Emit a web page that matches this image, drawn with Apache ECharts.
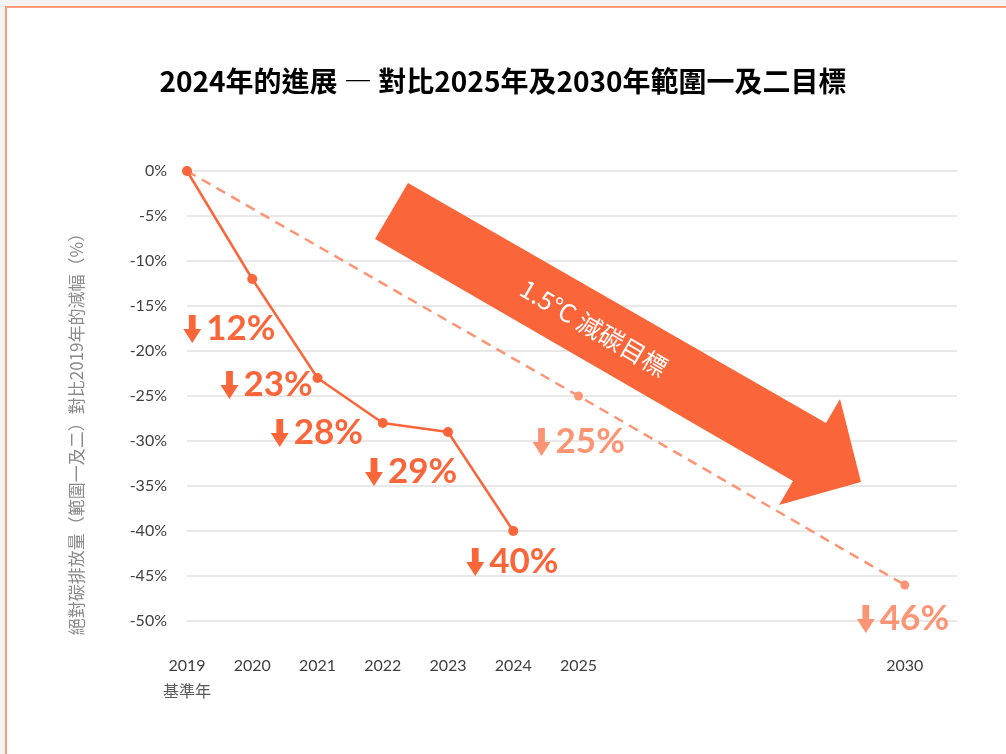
<!DOCTYPE html>
<html>
<head>
<meta charset="utf-8">
<script src="https://cdn.jsdelivr.net/npm/echarts@6/dist/echarts.min.js"></script>
<style>
  html, body { margin: 0; padding: 0; background: #f4f4f4; }
  #chart { width: 1006px; height: 754px; }
</style>
</head>
<body>
<div id="chart"></div>
<script>
// 實際減幅（範圍一及二，對比2019）
const actualYears = [2019, 2020, 2021, 2022, 2023, 2024];
const actualValues = [0, -12, -23, -28, -29, -40];
// 目標路徑
const targetYears = [2019, 2025, 2030];
const targetValues = [0, -25, -46];
const tickYears = [2019, 2020, 2021, 2022, 2023, 2024, 2025, 2030];

// 標籤相對數據點的偏移 (px)
const actualOffsets = [null, [-60, 50], [-88, 7], [-103, 10], [-74, 40], [-38, 31]];
const targetOffsets = [null, [-37, 46], [-39, 34]];

const solidColor = '#fa653a';
const lightColor = '#fd9474';
const arrowPath = 'path://M5.3 0 L11.7 0 L11.7 14 L17 14 L8.5 28 L0 14 L5.3 14 Z';

function annoData(years, values, offsets) {
  let out = [];
  years.forEach((y, i) => {
    if (!offsets[i]) return;
    out.push({ value: [y, values[i]], symbolOffset: offsets[i] });
  });
  return out;
}

function annoSeries(years, values, offsets, color) {
  return {
    type: 'scatter',
    data: annoData(years, values, offsets),
    symbol: arrowPath,
    symbolSize: [18, 28],
    itemStyle: { color: color, opacity: 1 },
    silent: true,
    z: 5,
    label: {
      show: true,
      position: 'right',
      distance: 5,
      color: color,
      fontFamily: 'Lato',
      fontWeight: 'bold',
      fontSize: 35,
      formatter: p => Math.abs(p.value[1]) + '%'
    }
  };
}

const chart = echarts.init(document.getElementById('chart'));
const option = {
  backgroundColor: '#f4f4f4',
  animation: false,
  title: {
    text: '2024年的進展 ― 對比2025年及2030年範圍一及二目標',
    left: 'center',
    top: 62,
    textStyle: {
      fontFamily: 'Noto Sans CJK TC',
      fontWeight: 'bold',
      fontSize: 28,
      color: '#000'
    }
  },
  grid: { left: 187, right: 49, top: 171, bottom: 133 },
  xAxis: {
    type: 'value',
    min: 2019,
    max: 2030.8,
    interval: 1,
    axisLine: { show: false },
    axisTick: { show: false },
    splitLine: { show: false },
    axisLabel: {
      margin: 32,
      color: '#404040',
      fontFamily: 'Lato',
      fontSize: 16,
      lineHeight: 25,
      formatter: v => {
        if (tickYears.indexOf(v) < 0) return '';
        if (v === 2019) return '{y|2019}\n{b|基準年}';
        return '{y|' + v + '}';
      },
      rich: {
        y: { fontFamily: 'Lato', fontSize: 16, lineHeight: 25, color: '#404040' },
        b: { fontFamily: 'Noto Sans CJK TC', fontSize: 16, lineHeight: 25, color: '#595959' }
      }
    }
  },
  yAxis: {
    type: 'value',
    min: -50,
    max: 0,
    interval: 5,
    axisLine: { show: false },
    axisTick: { show: false },
    splitLine: { lineStyle: { color: '#e8e8e8', width: 2 } },
    axisLabel: {
      margin: 20,
      color: '#404040',
      fontFamily: 'Lato',
      fontSize: 16,
      formatter: v => v + '%'
    }
  },
  graphic: [
    {
      type: 'rect',
      z: -100,
      silent: true,
      shape: { x: 6, y: 7, width: 1100, height: 800 },
      style: { fill: '#fff', stroke: '#fd9a7b', lineWidth: 2 }
    },
    {
      type: 'text',
      x: 77,
      y: 430,
      rotation: Math.PI / 2,
      silent: true,
      style: {
        text: '絕對碳排放量（範圍一及二）對比2019年的減幅（%）',
        fontFamily: 'Noto Sans CJK TC',
        fontSize: 17,
        fill: '#8a8a8a',
        align: 'center',
        verticalAlign: 'middle'
      }
    },
    {
      type: 'polygon',
      z: 10,
      silent: true,
      shape: {
        points: [[408, 183], [826, 423], [840, 399], [861, 482], [779, 505], [793, 481], [375, 239]]
      },
      style: { fill: '#fa653a' }
    },
    {
      type: 'text',
      z: 11,
      x: 594,
      y: 328,
      rotation: -0.53,
      silent: true,
      style: {
        text: '1.5°C 減碳目標',
        fontFamily: 'Noto Sans CJK TC',
        fontSize: 25,
        fill: '#fff',
        align: 'center',
        verticalAlign: 'middle'
      }
    }
  ],
  series: [
    {
      type: 'line',
      data: targetYears.map((y, i) => [y, targetValues[i]]),
      symbol: 'circle',
      symbolSize: 9,
      lineStyle: { color: lightColor, width: 2.5, type: [10, 7] },
      itemStyle: { color: lightColor },
      z: 2
    },
    {
      type: 'line',
      data: actualYears.map((y, i) => [y, actualValues[i]]),
      symbol: 'circle',
      symbolSize: 10,
      lineStyle: { color: solidColor, width: 2.5 },
      itemStyle: { color: solidColor },
      z: 3
    },
    annoSeries(actualYears, actualValues, actualOffsets, solidColor),
    annoSeries(targetYears, targetValues, targetOffsets, lightColor)
  ]
};
chart.setOption(option);
</script>
</body>
</html>
